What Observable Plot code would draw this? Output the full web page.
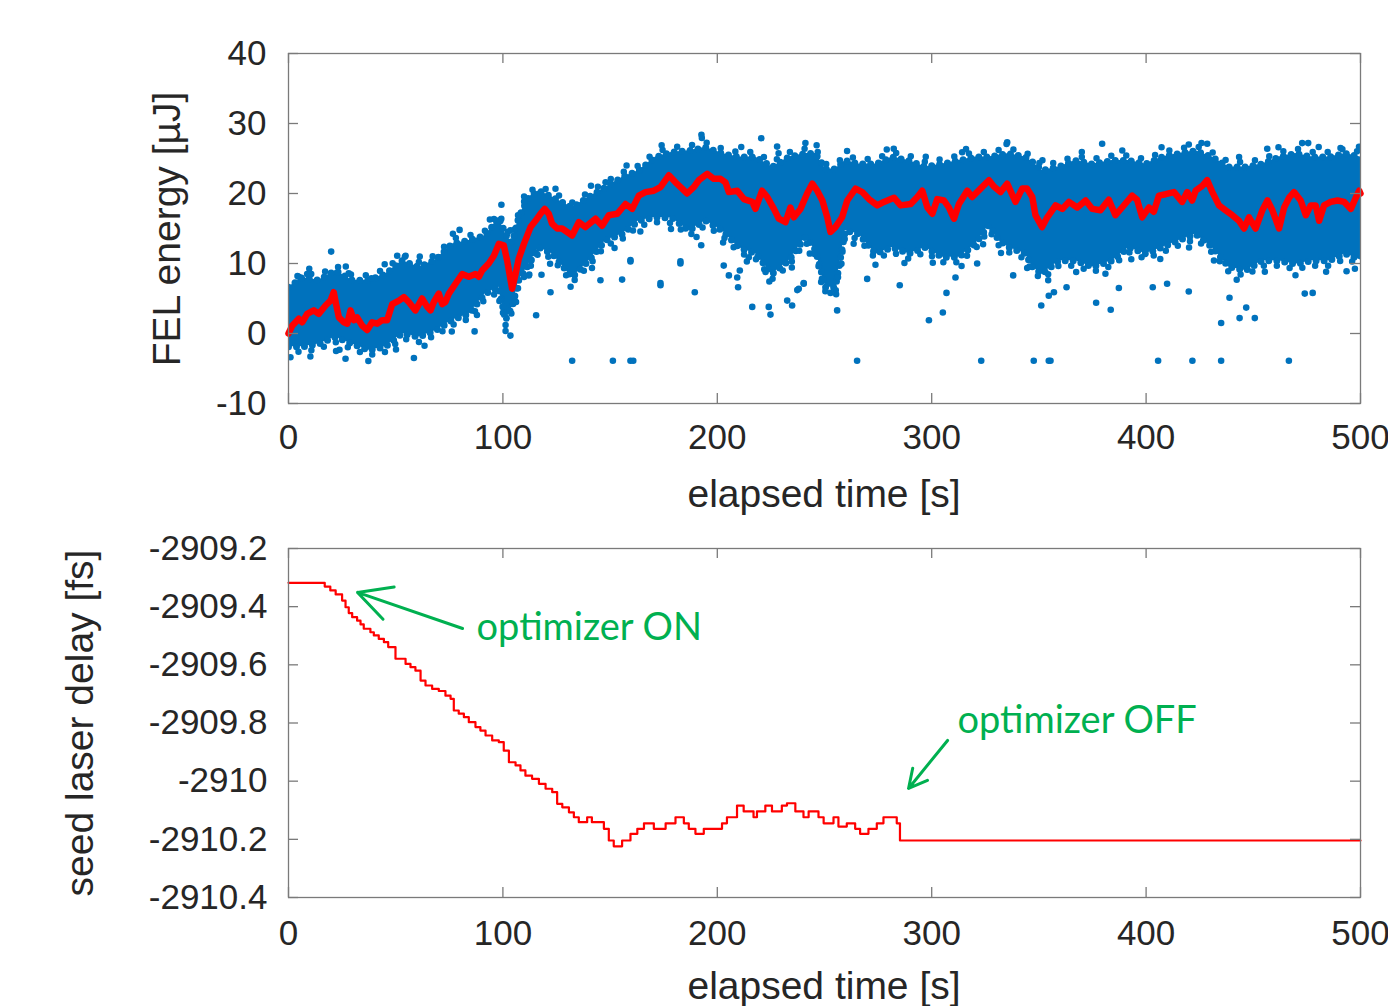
<!DOCTYPE html>
<html><head><meta charset="utf-8">
<script src="https://cdn.jsdelivr.net/npm/d3@7"></script>
<script src="https://cdn.jsdelivr.net/npm/@observablehq/plot@0.6"></script>
<style>
body{margin:0;background:#fff;}
#wrap{position:relative;width:1388px;height:1006px;overflow:hidden;background:#fff;}
#wrap > svg{position:absolute;left:0;}
</style></head><body><div id="wrap"></div>
<script>
// ---------- tick values & labels ----------
const xTicks = [0, 100, 200, 300, 400, 500];
const xTickLabels = ["0", "100", "200", "300", "400", "500"];
const energyTicks = [-10, 0, 10, 20, 30, 40];
const energyTickLabels = ["-10", "0", "10", "20", "30", "40"];
const delayTicks = [-2910.4, -2910.2, -2910, -2909.8, -2909.6, -2909.4, -2909.2];
const delayTickLabels = ["-2910.4", "-2910.2", "-2910", "-2909.8", "-2909.6", "-2909.4", "-2909.2"];

// ---------- top panel: FEL energy ----------
// moving average (red line): time [s], energy [uJ]
const avgT = [0,1.7,4.8,6.4,8.7,11.8,14.1,17.3,19.6,21.1,21.9,23.5,25.8,27.4,28.9,30.5,32.0,34.4,36.7,39.0,41.4,43.7,46.0,48.4,51.5,53.8,56.1,59.2,62.3,64.7,66.2,67.8,70.1,71.7,73.2,74.8,77.9,81.0,84.1,87.2,88.8,90.3,93.4,95.8,98.1,100.4,102.0,104.3,105.9,107.4,109.8,112.9,115.2,117.5,119.5,121.4,122.9,125.3,127.6,132.3,135.4,138.5,143.2,146.3,149.4,153.3,157.2,160.3,163.4,166.5,170.4,173.5,177.4,180.5,183.6,185.9,189.0,191.4,195.3,198.4,201.5,203.8,205.4,209.3,212.4,216.3,217.8,220.9,223.3,226.4,228.7,231.8,234.1,235.7,238.8,241.9,244.3,246.6,249.0,251.3,252.8,255.1,258.2,260.6,264.5,267.6,270.7,274.6,277.7,282.4,285.5,290.2,293.3,295.6,298.0,300.3,302.6,305.7,308.0,310.4,312.7,316.6,318.9,322.8,326.7,329.0,332.1,335.2,339.1,342.2,344.5,346.9,348.4,351.5,353.9,357.8,360.9,364.0,367.9,371.8,374.9,378.7,382.6,385.7,388.8,393.5,395.8,398.2,401.3,403.6,406.0,409.1,413.0,416.8,419.2,421.5,423.1,426.2,428.5,430.9,434.0,437.1,440.2,443.3,445.7,448.0,451.1,454.2,456.6,458.9,462.0,464.4,466.7,469.0,472.1,474.5,476.8,479.1,480.7,483.0,486.1,489.3,492.4,495.5,497.8,499.4,500];
const avgE = [0,1.1,2.1,1.6,2.8,3.3,2.8,4.0,4.7,5.9,4.6,2.3,1.6,1.4,3.3,1.9,2.3,1.1,0.5,1.6,1.4,1.9,1.9,4.2,4.7,5.2,4.5,3.3,5.0,3.8,3.3,4.5,5.7,4.2,4.5,5.7,7.1,8.5,8.1,8.5,8.1,9.0,10.0,11.1,12.8,12.6,10.4,6.4,8.5,10.7,12.8,15.2,16.1,17.1,17.8,17.1,15.7,15.0,15.0,14.0,15.9,15.2,16.4,15.4,16.9,17.1,18.5,17.8,19.7,20.2,20.4,20.9,22.6,21.6,20.7,20.0,20.9,21.9,22.8,22.1,22.1,21.6,20.2,20.4,19.2,18.8,17.8,20.4,19.5,17.8,16.4,15.9,18.0,16.6,17.8,20.0,21.4,20.4,19.0,16.6,14.5,15.2,16.6,19.0,20.7,20.2,19.2,18.3,18.8,19.4,18.3,18.5,19.5,20.4,18.0,17.1,19.2,19.0,18.0,16.4,18.5,20.4,19.5,20.7,21.9,21.0,20.2,21.4,18.8,20.7,20.7,19.5,16.9,15.2,16.6,18.3,17.8,18.8,18.0,19.0,17.8,17.6,19.1,16.9,18.0,19.7,19.1,16.6,18.0,17.4,19.7,19.9,20.2,18.8,20.2,19.0,20.4,21.1,21.9,20.2,18.3,17.6,16.9,16.1,15.0,16.6,15.0,17.6,19.0,17.6,15.0,18.0,19.4,20.2,19.0,16.9,18.3,18.3,16.1,18.3,18.8,19.0,18.8,17.8,19.4,20.4,20.0];

// dense shot-to-shot cloud: outline (time, lower edge, upper edge)
const cloudT  = [0,6.4,14.1,21.9,29.7,37.5,45.2,53.0,60.8,68.5,76.3,84.1,91.9,98.1,101.2,104.3,107.4,112.1,116.8,123.0,132.3,140.1,147.9,155.6,163.4,171.2,178.9,186.7,194.5,202.3,210.0,217.8,225.6,233.4,241.1,245.8,250.5,255.1,259.7,266.0,273.8,281.6,289.3,297.1,304.9,312.7,320.4,326.7,331.3,336.0,343.7,347.0,351.5,359.3,367.1,374.9,384.2,392.0,399.7,407.5,415.3,423.1,430.8,438.6,446.4,454.2,461.9,469.7,477.5,485.3,493.0,500];
const cloudLo = [-1.9,-1.9,-1.5,-0.5,-1.5,-2.4,-1.9,0.0,-0.5,0.4,1.9,2.8,5.7,6.6,1.9,3.8,7.6,9.9,12.3,11.4,8.0,10.4,13.3,14.2,16.1,16.6,16.5,14.7,16.1,14.7,12.3,11.4,8.5,10.4,13.8,11.9,6.6,6.6,14.7,14.2,11.4,12.3,11.4,12.3,10.9,10.9,12.8,15.5,13.3,12.3,11.4,9.5,8.5,10.4,10.4,9.5,10.4,12.3,11.4,12.3,13.3,14.2,12.3,9.5,9.0,10.4,10.4,9.9,10.4,10.4,11.4,10.5];
const cloudHi = [6.6,8.0,7.6,9.0,7.6,7.6,8.5,10.4,9.5,10.5,12.8,13.3,14.0,16.6,14.2,13.0,16.6,19.5,20.4,19.5,18.0,19.5,20.9,22.3,23.3,25.2,25.9,26.1,26.6,25.7,25.2,25.2,23.8,25.2,25.7,25.7,23.5,23.5,24.7,24.2,24.2,25.2,24.7,23.8,24.2,24.7,25.2,25.2,25.5,25.7,25.2,24.5,23.3,23.8,24.7,24.2,24.7,24.7,24.2,25.2,25.7,26.1,25.2,23.8,23.8,24.2,25.2,25.7,25.2,25.2,25.7,25.2];

// isolated shots outside the dense cloud
const strayT = [132.3,151.3,159.5,160.8,265.2,323.1,347.6,354.6,355.4,405.6,421.6,435.0,466.6,
  122.2,145.5,155.6,173.5,189.5,182.8,159.5,216.3,224.0,224.8,232.6,234.9,237.3,240.3,255.9,252.8,285.1,269.9,298.7,305.2,306.9,311.1,209.7,203.0,210.5,
  192.6,220.5,241.1,227.9,282.3,314.2,147.9,
  321.2,338.0,351.1,354.6,357.0,362.9,376.7,383.5,387.3,403.1,409.8,419.9,435.0,438.9,443.6,446.7,450.7,474.0,477.7,493.5,
  335.2,379.5,428.5,472.8,475.6,490.7,419.9,456.5,
  0.9,22.2,26.6,58.5,86.8,103.5,115.5,99.3,79.8,19.9,50.7,54.6,118.0,112.1,4.8,8.7,28.1,38.7,
  205.4,209.3,214.7,222.5,238.0,240.3,159.5,173.5,182.8,192.5];
const strayE = [-3.9,-3.9,-3.9,-3.9,-3.9,-3.9,-3.9,-3.9,-3.9,-3.9,-3.9,-3.9,-3.9,
  5.9,7.6,7.7,7.2,5.9,10.3,10.5,3.8,3.8,2.7,4.7,4.0,6.2,7.2,3.3,5.8,6.9,7.8,1.9,3.0,5.8,8.0,6.6,9.7,9.0,
  28.4,27.9,27.2,26.7,26.4,25.9,21.6,
  10.0,8.3,4.0,5.4,5.9,6.6,4.4,3.4,6.5,6.6,7.1,6.0,1.5,5.1,2.2,3.7,2.2,5.7,5.8,8.9,
  27.3,27.1,27.1,27.2,27.2,26.5,27.0,26.4,
  -3.4,-2.5,-3.6,-3.5,0.3,-0.3,2.6,18.4,14.8,11.7,11.1,11.1,8.4,8.3,8.1,8.5,8.6,7.9,
  8.3,8.0,10.9,8.8,6.4,7.1,10.3,6.9,10.0,12.6];

// ---------- bottom panel: seed laser delay (staircase) ----------
const delayT = [0,16.9,19.5,22.0,25.0,26.6,28.1,29.7,32.0,33.6,35.1,38.2,39.8,42.1,44.5,46.5,49.9,54.6,56.9,59.2,61.6,63.9,67.0,70.1,73.2,75.6,77.1,79.4,81.8,84.1,87.2,89.5,91.9,95.0,98.1,100.4,102.8,105.9,108.2,110.5,113.6,116.8,119.9,123.0,125.3,127.7,130.8,133.1,135.4,139.3,141.5,147.1,149.4,151.7,155.6,159.5,162.7,165.8,170.4,175.9,180.5,184.4,186.7,189.8,193.7,202.2,204.5,209.2,212.3,216.9,218.5,222.4,225.5,230.1,232.5,236.4,240.2,242.6,247.2,249.6,254.2,256.5,260.4,264.3,266.6,270.5,274.4,277.5,283.7,285.2,500];
const delayV = [-2909.318,-2909.331,-2909.344,-2909.358,-2909.379,-2909.402,-2909.422,-2909.436,-2909.448,-2909.461,-2909.476,-2909.488,-2909.499,-2909.511,-2909.522,-2909.539,-2909.579,-2909.597,-2909.608,-2909.620,-2909.654,-2909.671,-2909.683,-2909.690,-2909.706,-2909.717,-2909.757,-2909.768,-2909.780,-2909.797,-2909.814,-2909.826,-2909.843,-2909.860,-2909.866,-2909.895,-2909.935,-2909.946,-2909.963,-2909.981,-2909.992,-2910.009,-2910.026,-2910.038,-2910.078,-2910.090,-2910.107,-2910.124,-2910.141,-2910.124,-2910.141,-2910.164,-2910.204,-2910.224,-2910.204,-2910.181,-2910.164,-2910.145,-2910.164,-2910.145,-2910.124,-2910.145,-2910.164,-2910.181,-2910.164,-2910.145,-2910.124,-2910.084,-2910.104,-2910.124,-2910.104,-2910.084,-2910.104,-2910.084,-2910.076,-2910.104,-2910.124,-2910.104,-2910.124,-2910.145,-2910.124,-2910.156,-2910.145,-2910.164,-2910.181,-2910.164,-2910.145,-2910.124,-2910.145,-2910.204,-2910.204];

// annotations (data coordinates of the bottom panel)
const noteText = ["optimizer ON", "optimizer OFF"];
const noteT = [87.7, 312.0];
const noteV = [-2909.516, -2909.836];
const arrowFromT = [81.2, 307.4];
const arrowFromV = [-2909.475, -2909.860];
const arrowToT = [32.2, 289.2];
const arrowToV = [-2909.351, -2910.025];

// ---------- styling ----------
const blue = "#0072BD", red = "#FF0000", green = "#00B050", frameGray = "#7a7a7a";
const W = 1388, mL = 288, mR = 28;
const font = "Liberation Sans, Arial, Helvetica, sans-serif";
const baseStyle = {fontFamily: font, fontSize: "35px", color: "#262626", background: "transparent", overflow: "visible"};

function fmt(ticks, labels) { return d => labels[ticks.findIndex(t => Math.abs(t - d) < 1e-9)]; }

function frameTicks(xDomain, yDomain, plotH, yTickVals) {
  const tick = 10;
  const dx = tick * (xDomain[1] - xDomain[0]) / (W - mL - mR);
  const dy = tick * (yDomain[1] - yDomain[0]) / plotH;
  return [
    Plot.ruleX(xTicks, {y1: yDomain[0], y2: yDomain[0] + dy, stroke: frameGray, strokeWidth: 1.3}),
    Plot.ruleX(xTicks, {y1: yDomain[1] - dy, y2: yDomain[1], stroke: frameGray, strokeWidth: 1.3}),
    Plot.ruleY(yTickVals, {x1: xDomain[0], x2: xDomain[0] + dx, stroke: frameGray, strokeWidth: 1.3}),
    Plot.ruleY(yTickVals, {x1: xDomain[1] - dx, x2: xDomain[1], stroke: frameGray, strokeWidth: 1.3}),
    Plot.frame({stroke: frameGray, strokeWidth: 1.3})
  ];
}

// speckled fringe along an outline edge (stylistic: round dash caps become dots)
function fringe(data, key, dy, gap, offset, w) {
  return Plot.line(data, {x: "t", y: key, dy, stroke: blue, strokeWidth: w, strokeLinecap: "round",
    strokeLinejoin: "round", strokeDasharray: `0 ${gap}`, strokeDashoffset: offset, clip: true});
}

const wrap = document.getElementById("wrap");

// ----- top chart -----
const topH = 520, topMT = 53, topMB = 117;
const cloud = cloudT.map((t, i) => ({t, lo: cloudLo[i], hi: cloudHi[i]}));
const strays = strayT.map((t, i) => ({t, e: strayE[i]}));
const avg = avgT.map((t, i) => ({t, e: avgE[i]}));

const topChart = Plot.plot({
  width: W, height: topH,
  marginLeft: mL, marginRight: mR, marginTop: topMT, marginBottom: topMB,
  style: baseStyle,
  x: {domain: [0, 500]},
  y: {domain: [-10, 40]},
  marks: [
    Plot.areaY(cloud, {x: "t", y1: "lo", y2: "hi", fill: blue, clip: true}),
    fringe(cloud, "hi", 0, 8, 0, 7),
    fringe(cloud, "lo", 0, 8, 0, 7),
    fringe(cloud, "hi", -5, 15, 4, 6.5),
    fringe(cloud, "lo", 5, 13, 3, 6.5),
    fringe(cloud, "lo", 11, 31, 9, 6.5),
    fringe(cloud, "hi", -10, 41, 17, 6.5),
    Plot.dot(strays, {x: "t", y: "e", r: 3.3, fill: blue, clip: true}),
    Plot.line(avg, {x: "t", y: "e", stroke: red, strokeWidth: 6.5, strokeLinejoin: "round", strokeLinecap: "round"}),
    ...frameTicks([0, 500], [-10, 40], topH - topMT - topMB, energyTicks),
    Plot.axisX(xTicks, {anchor: "bottom", tickSize: 0, tickPadding: 21, tickFormat: fmt(xTicks, xTickLabels), label: null}),
    Plot.axisY(energyTicks, {anchor: "left", tickSize: 0, tickPadding: 22, tickFormat: fmt(energyTicks, energyTickLabels), label: null})
  ]
});
topChart.style.top = "0px";
wrap.appendChild(topChart);

// ----- bottom chart -----
const botTop = 520, botH = 486, botMT = 28, botMB = 109;
const delay = delayT.map((t, i) => ({t, v: delayV[i]}));
const notes = noteText.map((s, i) => ({s, t: noteT[i], v: noteV[i]}));
const arrows = arrowFromT.map((t, i) => ({x1: t, y1: arrowFromV[i], x2: arrowToT[i], y2: arrowToV[i]}));

const bottomChart = Plot.plot({
  width: W, height: botH,
  marginLeft: mL, marginRight: mR, marginTop: botMT, marginBottom: botMB,
  style: baseStyle,
  x: {domain: [0, 500]},
  y: {domain: [-2910.4, -2909.2]},
  marks: [
    Plot.line(delay, {x: "t", y: "v", curve: "step-after", stroke: red, strokeWidth: 2.2}),
    Plot.arrow(arrows, {x1: "x1", y1: "y1", x2: "x2", y2: "y2", stroke: green, strokeWidth: 3, headLength: 20, headAngle: 55}),
    Plot.text(notes, {x: "t", y: "v", text: "s", textAnchor: "start", lineAnchor: "bottom", fill: green, fontFamily: "Lato, 'Open Sans', sans-serif", fontSize: 38}),
    ...frameTicks([0, 500], [-2910.4, -2909.2], botH - botMT - botMB, delayTicks),
    Plot.axisX(xTicks, {anchor: "bottom", tickSize: 0, tickPadding: 23, tickFormat: fmt(xTicks, xTickLabels), label: null}),
    Plot.axisY(delayTicks, {anchor: "left", tickSize: 0, tickPadding: 21, tickFormat: fmt(delayTicks, delayTickLabels), label: null})
  ]
});
bottomChart.style.top = botTop + "px";
wrap.appendChild(bottomChart);

// ----- axis titles (overlay) -----
const ov = d3.select(wrap).append("svg")
  .attr("width", W).attr("height", 1006)
  .style("top", "0px").style("pointer-events", "none")
  .style("font-family", font).style("font-size", "39px").style("fill", "#262626");
const titles = [
  {s: "elapsed time [s]", x: 824, y: 507, r: 0},
  {s: "elapsed time [s]", x: 824, y: 999, r: 0},
  {s: "FEL energy [\u00B5J]", x: 180, y: 229, r: -90},
  {s: "seed laser delay [fs]", x: 93, y: 723, r: -90}
];
ov.selectAll("text").data(titles).join("text")
  .attr("text-anchor", "middle")
  .attr("transform", d => `translate(${d.x},${d.y}) rotate(${d.r})`)
  .text(d => d.s);
</script>
</body></html>
